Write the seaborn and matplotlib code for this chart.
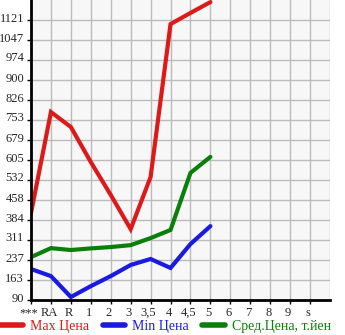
import matplotlib
matplotlib.use("Agg")
import matplotlib.pyplot as plt
import matplotlib.transforms as mtransforms
from matplotlib.lines import Line2D
import numpy as np
import pandas as pd
import seaborn as sns

categories = ["***", "RA", "R", "1", "2", "3", "3,5", "4", "4,5", "5", "6", "7", "8", "9", "s"]
max_price = [410, 782, 727, 598, 477, 351, 543, 1106, 1147, 1187]
min_price = [204, 178, 101, 141, 178, 219, 241, 208, 296, 362]
avg_price = [248, 281, 274, 280, 285, 292, 318, 348, 558, 617]
y_ticks = [90, 163, 237, 311, 384, 458, 532, 605, 679, 753, 826, 900, 974, 1047, 1121]
series_names = ["Max Цена", "Min Цена", "Сред.Цена, т.йен"]
colors = ["#dd1a1a", "#1a1ae0", "#0a800a"]

rows = []
for name, vals in zip(series_names, [max_price, min_price, avg_price]):
    for i, v in enumerate(vals):
        rows.append({"pos": i, "value": v, "series": name})
df = pd.DataFrame(rows)

sns.set_theme(style="white")
plt.rcParams["font.family"] = ["Liberation Serif", "DejaVu Serif"]

fig = plt.figure(figsize=(3.45, 3.35), dpi=100)
ax = fig.add_axes([31 / 345, 1 - 300 / 335, 299 / 345, 300 / 335])
ax.set_facecolor("#f7f7f7")

sns.lineplot(data=df, x="pos", y="value", hue="series", palette=colors,
             hue_order=series_names, linewidth=3.0, ax=ax, legend=False,
             sort=False)
for ln in ax.lines:
    ln.set_solid_capstyle("round")
    ln.set_solid_joinstyle("miter")

ax.set_xlim(0, 15)
ax.set_ylim(90, 90 + 15 * (1121 - 90) / 14)
ax.set_xticks(range(len(categories)))
ax.set_xticklabels(categories, fontsize=9)
ax.set_yticks(y_ticks)
ax.set_yticklabels([str(t) for t in y_ticks], fontsize=9)
ax.set_xlabel("")
ax.set_ylabel("")

for t in y_ticks:
    if t > 90:
        ax.axhline(t, color="#bbbbbb", lw=1.0, zorder=0)
for p in range(1, 16):
    ax.axvline(p, color="#bbbbbb", lw=1.0, zorder=0)

for s in ["top", "right"]:
    ax.spines[s].set_visible(False)
for s in ["left", "bottom"]:
    ax.spines[s].set_color("black")
    ax.spines[s].set_linewidth(2)

ax.tick_params(axis="y", which="major", length=3, width=1, color="black", pad=2, left=True)
ax.tick_params(axis="x", which="major", length=3, width=1, color="black", pad=2, bottom=True)

offset = mtransforms.ScaledTranslation(0, 3 / 100, fig.dpi_scale_trans)
for lbl in ax.get_yticklabels():
    lbl.set_transform(lbl.get_transform() + offset)
xoff = mtransforms.ScaledTranslation(-2 / 100, 0, fig.dpi_scale_trans)
for lbl in ax.get_xticklabels():
    lbl.set_transform(lbl.get_transform() + xoff)

handles = [Line2D([0], [0], color=c, lw=4, solid_capstyle="round") for c in colors]
leg = fig.legend(handles, series_names, loc="lower left", bbox_to_anchor=(-0.005, 0.0),
                 ncol=3, frameon=False, fontsize=10, handlelength=1.6, handletextpad=0.5,
                 columnspacing=1.0, borderaxespad=0.0, borderpad=0.15)
for txt, c in zip(leg.get_texts(), colors):
    txt.set_color(c)

fig.savefig("out.png", dpi=100)
